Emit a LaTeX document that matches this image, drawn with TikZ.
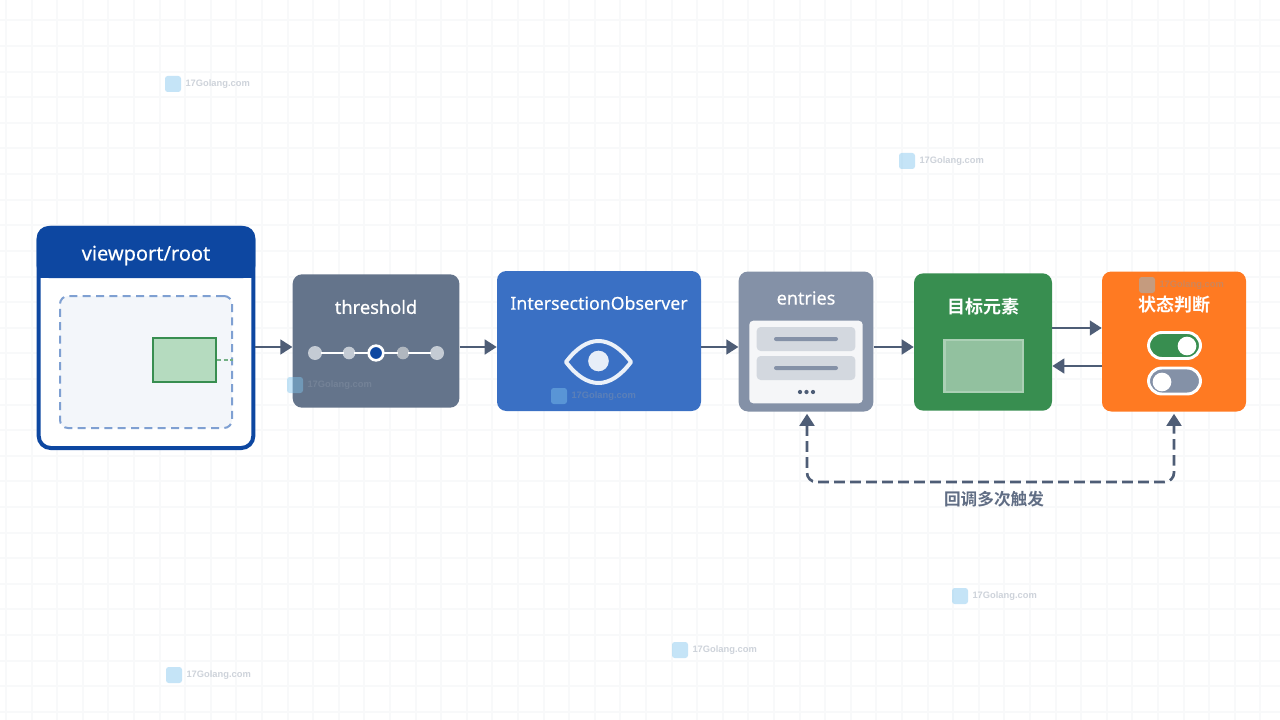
\documentclass[tikz,border=0pt]{standalone}
\usepackage{fontspec}
\setmainfont{Noto Sans}
\newfontfamily\medfont{Noto Sans}[FakeBold=0.4]
\newfontfamily\markfont{Liberation Sans}
\newfontfamily\cjkfont{Noto Sans CJK SC}[BoldFont={Noto Sans CJK SC Bold}]
\usetikzlibrary{arrows.meta, positioning, calc}
\definecolor{csgrid}{HTML}{F8F9FA}
\definecolor{csroot}{HTML}{0D47A1}
\definecolor{csroi}{HTML}{7FA0D2}
\definecolor{csslate}{HTML}{64748B}
\definecolor{csblue}{HTML}{3A70C4}
\definecolor{csentry}{HTML}{8491A7}
\definecolor{csgreen}{HTML}{388E50}
\definecolor{cstarget}{HTML}{B5DBBF}
\definecolor{csorange}{HTML}{FF7A22}
\definecolor{csarrow}{HTML}{4E5D76}
\definecolor{csmark}{HTML}{C4CBD4}
\definecolor{csmarktext}{HTML}{8A96A8}
\definecolor{csmarkicon}{HTML}{7FC4EE}
\newcommand{\wmark}[3]{%
\node[markicon] (#1i) at (#2,#3) {};
\node[marktext, right=3pt of #1i] (#1t) {17Golang.com};
}
\begin{document}
\begin{tikzpicture}[
    x=0.75pt, y=-0.75pt,
    card/.style={rectangle, rounded corners=7pt, fill=#1, inner sep=0pt},
    title/.style={font=\medfont\fontsize{15}{18}\selectfont, color=white},
    cjktitle/.style={font=\cjkfont\bfseries\fontsize{13.5}{16}\selectfont, color=white},
    flow/.style={-{Triangle[length=9pt,width=11pt]}, line width=1.8pt, color=csarrow},
    loopback/.style={{Triangle[length=9pt,width=11pt]}-{Triangle[length=9pt,width=11pt]}, line width=2pt, color=csarrow, dash pattern=on 8pt off 4pt, rounded corners=7pt},
    dot/.style={circle, fill=#1, inner sep=0pt, minimum size=10.5pt},
    track/.style={white, line width=2pt, shorten <=-1pt, shorten >=-1pt},
    bar/.style={rectangle, rounded corners=1.5pt, fill=#1, inner sep=0pt},
    pill/.style={rectangle, rounded corners=10pt, draw=white, line width=2.2pt, fill=#1, minimum width=39pt, minimum height=19.5pt, inner sep=0pt},
    knob/.style={circle, fill=white, inner sep=0pt, minimum size=14pt},
    markicon/.style={rectangle, rounded corners=2pt, fill=csmarkicon, fill opacity=0.45, minimum size=12pt, inner sep=0pt},
    marktext/.style={font=\markfont\bfseries\fontsize{7}{8}\selectfont, color=csmarktext, text opacity=0.42, inner sep=0pt}
]
\useasboundingbox (0,0) rectangle (1280,720);
\fill[white] (0,0) rectangle (1280,720);
% background grid
\foreach \gi in {0,...,49} \draw[csgrid, line width=1.5pt] ({6+25.6*\gi},0) -- ({6+25.6*\gi},720);
\foreach \gi in {0,...,27} \draw[csgrid, line width=1.5pt] (0,{20.5+25.6*\gi}) -- (1280,{20.5+25.6*\gi});

% viewport
\node[rectangle, rounded corners=9pt, draw=csroot, line width=3pt, fill=white, minimum width=161pt, minimum height=165pt, inner sep=0pt] (root) at (146,338) {};
\coordinate (headbot) at (0,278);
\fill[csroot, rounded corners=9pt] (root.north west) -- (root.north east) -- (root.east |- headbot) -- (root.west |- headbot) -- cycle;
\fill[csroot] (root.west |- 0,262) rectangle (root.east |- headbot);
\node[title] (roottitle) at (146,255.5) {viewport/root};
\node[rectangle, rounded corners=6pt, draw=csroi, line width=1.5pt, dash pattern=on 6pt off 4pt, fill=csroot!5, minimum width=129pt, minimum height=99pt, inner sep=0pt] (roi) at (146,362) {};
\node[rectangle, draw=csgreen, line width=1.8pt, fill=cstarget, minimum width=47pt, minimum height=33pt, inner sep=0pt] (target) at (184.5,360) {};
\draw[csgreen!70, line width=0.8pt, densely dashed] (target.east) -- (target.east -| roi.east);

% threshold
\node[card=csslate, minimum width=125pt, minimum height=100pt] (thresh) at (376,341) {};
\node[title, font=\medfont\fontsize{13.7}{17}\selectfont] (threshtitle) at (376,307) {threshold};
\node[dot=csmark] (t1) at (315,353) {};
\node[dot=csmark, minimum size=9.5pt] (t2) at (349,353) {};
\node[dot=csmark!90!black, minimum size=9.5pt] (t4) at (403,353) {};
\node[dot=csmark] (t5) at (437,353) {};
\node[circle, draw=white, line width=2pt, fill=csroot, inner sep=0pt, minimum size=11pt] (t3) at (376,353) {};
\draw[track] (t1) -- (t2);
\draw[track] (t2) -- (t3);
\draw[track] (t3) -- (t4);
\draw[track] (t4) -- (t5);

% observer
\node[card=csblue, minimum width=153pt, minimum height=105pt] (observer) at (599,341) {};
\node[title, font=\medfont\fontsize{13.3}{16}\selectfont] (observertitle) at (599,303) {IntersectionObserver};
\coordinate (eyel) at (566,362);
\coordinate (eyer) at (631,362);
\draw[white!90!csblue, line width=3pt, line join=round] (eyel) .. controls (587,334) and (610,334) .. (eyer) .. controls (610,390) and (587,390) .. cycle;
\node[circle, fill=white!88!csblue, inner sep=0pt, minimum size=15.5pt] (pupil) at (598.5,361) {};

% entries
\node[card=csentry, minimum width=101pt, minimum height=105pt] (entries) at (806,341.5) {};
\node[title, font=\medfont\fontsize{13.5}{16}\selectfont] (entriestitle) at (806,298) {entries};
\node[rectangle, rounded corners=3pt, fill=white!92!csentry, minimum width=85pt, minimum height=62pt, inner sep=0pt] (entrypanel) at (806,362) {};
\node[bar=csmark!75!white, rounded corners=3pt, minimum width=74pt, minimum height=18pt] (row1) at (806,339) {};
\node[bar=csmark!75!white, rounded corners=3pt, minimum width=74pt, minimum height=18pt] (row2) at (806,368) {};
\node[bar=csentry, minimum width=48pt, minimum height=3pt] (line1) at (806,339) {};
\node[bar=csentry, minimum width=48pt, minimum height=3pt] (line2) at (806,368) {};
\foreach \dx in {800,806.5,813} \fill[csarrow] (\dx,392) circle (1.6pt);

% target element
\node[card=csgreen, minimum width=103.5pt, minimum height=103pt] (element) at (983,342) {};
\node[cjktitle] (elementtitle) at (983,307) {目标元素};
\node[rectangle, draw=white!58!csgreen, line width=2pt, fill=white!45!csgreen, minimum width=59pt, minimum height=39pt, inner sep=0pt] (elementbox) at (983.5,366) {};

% state
\node[card=csorange, minimum width=108pt, minimum height=105pt] (state) at (1174,341.5) {};
\node[cjktitle] (statetitle) at (1174,305) {状态判断};
\node[pill=csgreen] (pillon) at (1174.5,345.5) {};
\node[knob] (knobon) at (1187,346) {};
\node[pill=csentry] (pilloff) at (1174.5,381) {};
\node[knob] (knoboff) at (1162,382) {};

% connectors
\coordinate (rowmain) at (0,347);
\coordinate (rowup) at (0,328);
\coordinate (rowdown) at (0,366);
\draw[flow] (root.east |- rowmain) -- (thresh.west |- rowmain);
\draw[flow] (thresh.east |- rowmain) -- (observer.west |- rowmain);
\draw[flow] (observer.east |- rowmain) -- (entries.west |- rowmain);
\draw[flow] (entries.east |- rowmain) -- (element.west |- rowmain);
\draw[flow] (element.east |- rowup) -- (state.west |- rowup);
\draw[flow] (state.west |- rowdown) -- (element.east |- rowdown);
\coordinate (loopl) at (807,482);
\coordinate (loopr) at (1174,482);
\draw[loopback] ($(entries.south)+(1,2)$) -- (loopl) -- (loopr) -- ($(state.south)+(0,2)$);
\node[font=\cjkfont\bfseries\fontsize{12.5}{14}\selectfont, color=csarrow!90!white] (looplabel) at (994,499) {回调多次触发};

% watermarks
\wmark{wa}{173}{84}
\wmark{wb}{907}{161}
\wmark{wc}{295}{385}
\wmark{wd}{559}{396}
\wmark{we}{1147}{285}
\wmark{wf}{960}{596}
\wmark{wg}{680}{650}
\wmark{wh}{174}{675}
\end{tikzpicture}
\end{document}
